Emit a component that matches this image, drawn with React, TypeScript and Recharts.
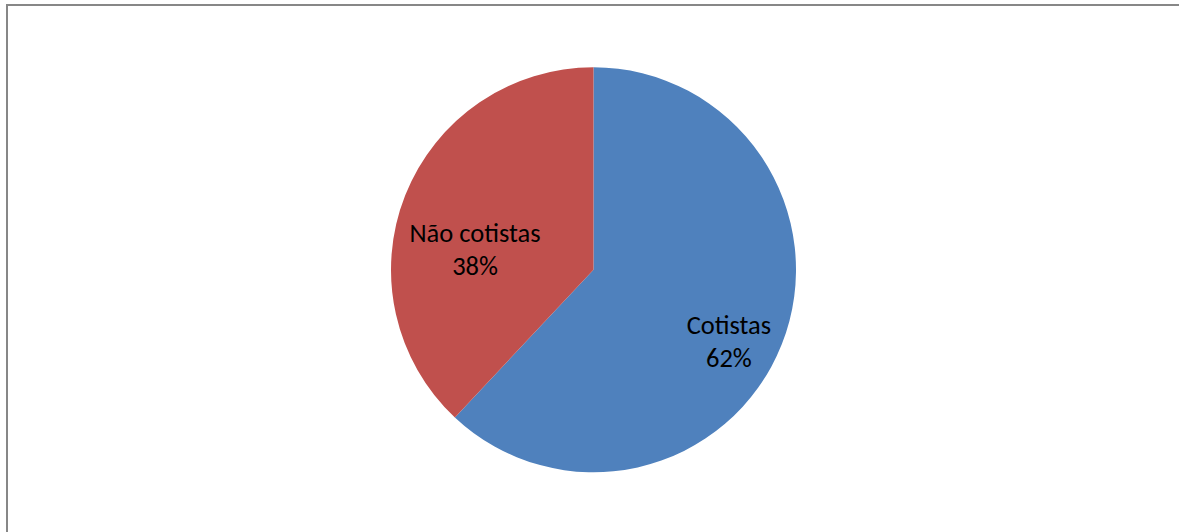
import React from 'react'
import { PieChart, Pie, Cell } from 'recharts'

const categories = ['Cotistas', 'Não cotistas']
const shares = [62, 38]
const colors = ['#4F81BD', '#C0504D']

const data = categories.map((name, i) => ({ name, value: shares[i] }))

// Excel "best fit" puts each label a bit off the slice's mid angle
const labelPlacement = [
  { ratio: 0.758, shift: -6.5 },
  { ratio: 0.593, shift: 12.1 }
]

const RADIAN = Math.PI / 180

const renderLabel = (props: any) => {
  const { cx, cy, midAngle, outerRadius, percent, index, name } = props
  const place = labelPlacement[index] || { ratio: 0.65, shift: 0 }
  const r = outerRadius * place.ratio
  const a = (midAngle + place.shift) * RADIAN
  const x = cx + r * Math.cos(a)
  const y = cy - r * Math.sin(a)
  return (
    <text
      x={x}
      y={y}
      textAnchor="middle"
      fill="#000"
      style={{ fontFamily: 'Carlito, Calibri, Lato, sans-serif', fontSize: 26.5 }}
    >
      <tspan x={x} y={y - 8}>{name}</tspan>
      <tspan x={x} y={y + 25}>{`${Math.round(percent * 100)}%`}</tspan>
    </text>
  )
}

export default function App() {
  return (
    <div
      style={{
        position: 'absolute',
        top: 0,
        left: 0,
        width: 1179,
        height: 532,
        background: '#fff',
        overflow: 'hidden'
      }}
    >
      <div
        style={{
          position: 'absolute',
          top: 4,
          left: 6,
          width: 1200,
          height: 560,
          borderTop: '2px solid #878787',
          borderLeft: '2px solid #878787'
        }}
      />
      <div style={{ position: 'absolute', top: 0, left: 0 }}>
        <PieChart width={1179} height={532} margin={{ top: 0, right: 0, bottom: 0, left: 0 }}>
          <Pie
            data={data}
            dataKey="value"
            nameKey="name"
            cx={593.5}
            cy={269.8}
            outerRadius={202.5}
            startAngle={90}
            endAngle={-270}
            stroke="none"
            labelLine={false}
            label={renderLabel}
            isAnimationActive={false}
          >
            {data.map((entry, index) => (
              <Cell key={`cell-${index}`} fill={colors[index]} />
            ))}
          </Pie>
        </PieChart>
      </div>
    </div>
  )
}
